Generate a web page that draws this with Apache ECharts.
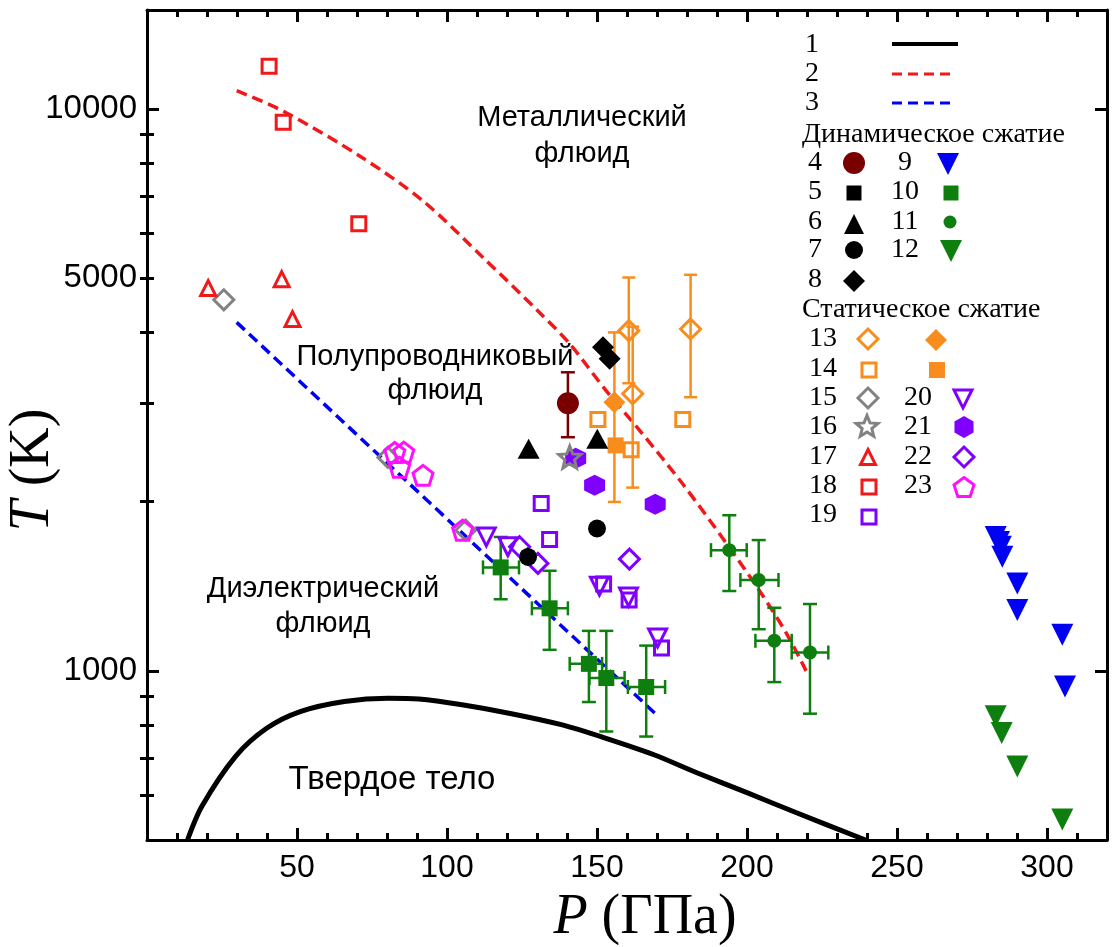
<!DOCTYPE html>
<html>
<head>
<meta charset="utf-8" />
<title>P-T diagram</title>
<script src="https://cdn.jsdelivr.net/npm/echarts@6.0.0/dist/echarts.min.js"></script>
<style>
  html, body { margin: 0; padding: 0; background: #fff; }
  #container { width: 1112px; height: 947px; }
</style>
</head>
<body>
<div id="container"></div>
<script type="text/javascript">

// ---- data (P in GPa, T in K) ----
// 1: melting curve
var meltP = [13.5, 18.3, 29.6, 40.0, 51.3, 65.8, 80.3, 90.6, 105.0, 121.5, 138.1, 152.5, 169.0, 183.5, 200.0, 216.5, 239.5];
var meltT = [500, 574, 705, 791, 847, 882, 894, 891, 870, 839, 802, 760, 709, 658, 607, 559, 500];
// 2: metallization line
var metP = [29.9, 45.4, 71.0, 92.0, 112.0, 130.9, 140.9, 153.1, 164.2, 178.6, 193.0, 204.1, 213.0, 219.7];
var metT = [10780, 9910, 8240, 6860, 5440, 4340, 3820, 3150, 2680, 2150, 1690, 1390, 1170, 1000];
// 3: dielectric boundary
var dielP = [29.9, 100, 170.2];
var dielT = [4170, 1864, 832];

// dynamic compression
var d4 = [[140.3, 2994]];
var e4T = [[2605, 3399]];
var d6 = [[127.2, 2485], [150.1, 2589]];
var d7 = [[150.0, 1792], [127.0, 1595]];
var d8 = [[152.0, 3765], [154.2, 3591]];
var d9 = [[282.9, 1731], [284.0, 1696], [284.6, 1663], [285.1, 1596], [290.1, 1431], [290.1, 1283], [305.1, 1159], [306.0, 938]];
var d10 = [[117.9, 1528], [134.2, 1292], [147.3, 1029], [153.1, 971], [166.4, 936]];
var e10T = [[1341, 1731], [1090, 1507], [880, 1178], [780, 1178], [764, 1109]];
var e10P = [[112.0, 124.0], [128.3, 140.3], [140.9, 151.7], [147.5, 159.2], [160.3, 172.7]];
var d11 = [[194.1, 1640], [203.9, 1451], [209.1, 1131], [221.0, 1078]];
var e11T = [[1387, 1892], [1186, 1709], [955, 1295], [839, 1315]];
var e11P = [[188.0, 199.9], [197.8, 210.5], [202.8, 214.9], [214.9, 227.1]];
var d12 = [[282.9, 830], [284.9, 775], [290.1, 676], [305.1, 544]];

// static compression
var d13o = [[160.6, 4031], [161.9, 3112], [181.2, 4059]];
var e13o = [[3250, 5012], [2119, 4098], [3069, 5068]];
var d13f = [[155.8, 3006]];
var e13f = [[1998, 4002]];
var d14o = [[150.3, 2802], [161.4, 2475], [178.6, 2802]];
var d14f = [[156.2, 2519]];
var d15 = [[25.6, 4575], [80.3, 2398], [106.2, 1780]];
var d16 = [[140.9, 2401]];
var d17 = [[20.4, 4800], [44.9, 4978], [48.5, 4227]];
var d18 = [[40.7, 11906], [45.4, 9472], [70.6, 6249]];
var d19 = [[131.4, 1985], [134.2, 1713], [152.2, 1427], [160.7, 1337], [171.5, 1098]];
var d20 = [[113.1, 1731], [120.3, 1663], [150.8, 1415], [160.5, 1353], [170.2, 1144]];
var d21 = [[142.9, 2390], [149.2, 2139], [169.4, 1979]];
var d22 = [[124.2, 1663], [130.3, 1553], [160.8, 1581]];
var d23 = [[105.2, 1780], [82.6, 2447], [85.6, 2450], [84.2, 2303], [92.0, 2228]];

// axis ticks
var xMajor = [50, 100, 150, 200, 250, 300];
var xMinor = [10, 20, 30, 40, 60, 70, 80, 90, 110, 120, 130, 140, 160, 170, 180, 190, 210, 220, 230, 240, 260, 270, 280, 290, 310];
var yMajor = [1000, 10000];
var yMinor = [600, 700, 800, 900, 2000, 3000, 4000, 5000, 6000, 7000, 8000, 9000];
var yLabels = [1000, 5000, 10000];

// ---- styles ----
var SANS = '"Liberation Sans", Arial, sans-serif';
var SERIF = '"Liberation Serif", "Times New Roman", serif';
var RED = '#f01818', BLUE = '#0000f5', GREEN = '#0e7f0e', ORANGE = '#f88c1c',
    PURPLE = '#7f00ff', MAGENTA = '#ff10ff', GRAY = '#828282', MAROON = '#7a0000';
var NOFILL = 'rgba(0,0,0,0)';
var HEX = 'path://M50,0 L93.3,25 L93.3,75 L50,100 L6.7,75 L6.7,25 Z';
var PENT = 'path://M50,0 L97.6,34.5 L79.4,90.5 L20.6,90.5 L2.4,34.5 Z';
var STAR = 'path://M50,0 L62.9,32.2 L97.6,34.5 L70.9,56.8 L79.4,90.5 L50,72 L20.6,90.5 L29.1,56.8 L2.4,34.5 L37.1,32.2 Z';

function lg(v) { return Math.log10(v); }
function zip(a, b) { return a.map(function (v, i) { return [v, b[i]]; }); }

function sc(data, symbol, size, fill, stroke, bw, rot, z) {
    return {
        type: 'scatter', xAxisIndex: 0, yAxisIndex: 0, data: data,
        symbol: symbol, symbolSize: size, symbolRotate: rot || 0,
        itemStyle: { color: fill, borderColor: stroke || fill, borderWidth: bw || 0, opacity: 1 },
        z: z || 4, silent: true
    };
}

function errBars(pts, tErr, pErr, color, cap) {
    var data = pts.map(function (p, i) {
        return [p[0], p[1],
            tErr ? tErr[i][0] : 0, tErr ? tErr[i][1] : 0,
            pErr ? pErr[i][0] : 0, pErr ? pErr[i][1] : 0];
    });
    return {
        type: 'custom', xAxisIndex: 0, yAxisIndex: 0, data: data, z: 3, silent: true,
        encode: { x: 0, y: 1 },
        renderItem: function (params, api) {
            var x = api.value(0), y = api.value(1);
            var st = { stroke: color, lineWidth: 2.5 };
            var kids = [];
            function seg(a, b) { kids.push({ type: 'line', shape: { x1: a[0], y1: a[1], x2: b[0], y2: b[1] }, style: st }); }
            if (api.value(3) > 0) {
                var lo = api.coord([x, api.value(2)]), hi = api.coord([x, api.value(3)]);
                seg(lo, hi);
                seg([lo[0] - cap, lo[1]], [lo[0] + cap, lo[1]]);
                seg([hi[0] - cap, hi[1]], [hi[0] + cap, hi[1]]);
            }
            if (api.value(5) > 0) {
                var l = api.coord([api.value(4), y]), r = api.coord([api.value(5), y]);
                seg(l, r);
                seg([l[0], l[1] - cap], [l[0], l[1] + cap]);
                seg([r[0], r[1] - cap], [r[0], r[1] + cap]);
            }
            return { type: 'group', children: kids };
        }
    };
}

function line(xs, ys, color, width, type, smooth) {
    return {
        type: 'line', xAxisIndex: 0, yAxisIndex: 0, data: zip(xs, ys), showSymbol: false, symbol: 'none',
        smooth: smooth, lineStyle: { color: color, width: width, type: type }, z: 2, silent: true
    };
}

// ---- legend helpers (graphic) ----
function mk(kind, cx, cy, s, fill, stroke, lw) {
    var r = s / 2, pts, i, a;
    var st = { fill: fill, stroke: stroke || null, lineWidth: lw || 0 };
    if (kind === 'circle') return { type: 'circle', shape: { cx: cx, cy: cy, r: r }, style: st };
    if (kind === 'rect') return { type: 'rect', shape: { x: cx - r, y: cy - r, width: s, height: s }, style: st };
    if (kind === 'tri') pts = [[cx, cy - r], [cx + r, cy + r], [cx - r, cy + r]];
    if (kind === 'dtri') pts = [[cx - r, cy - r], [cx + r, cy - r], [cx, cy + r]];
    if (kind === 'diamond') pts = [[cx, cy - r], [cx + r, cy], [cx, cy + r], [cx - r, cy]];
    if (kind === 'hex' || kind === 'pent') {
        var n = kind === 'hex' ? 6 : 5;
        pts = [];
        for (i = 0; i < n; i++) { a = -Math.PI / 2 + i * 2 * Math.PI / n; pts.push([cx + r * Math.cos(a), cy + r * Math.sin(a)]); }
    }
    if (kind === 'star') {
        pts = [];
        for (i = 0; i < 10; i++) { a = -Math.PI / 2 + i * Math.PI / 5; var rr = i % 2 ? r * 0.44 : r; pts.push([cx + rr * Math.cos(a), cy + rr * Math.sin(a)]); }
    }
    return { type: 'polygon', shape: { points: pts }, style: st };
}
function txt(s, x, y, size, family, align) {
    return { type: 'text', x: x, y: y, style: { text: s, fontSize: size, fontFamily: family, fill: '#000', align: align || 'center', verticalAlign: 'middle' } };
}
function lgLine(x1, x2, y, color, dash, w) {
    return { type: 'line', shape: { x1: x1, y1: y, x2: x2, y2: y }, style: { stroke: color, lineWidth: w, lineDash: dash } };
}
var italic = { i: { fontFamily: SERIF, fontSize: 56, fontStyle: 'italic', fill: '#000' } };

var graphics = [
    txt('Металлический', 582, 118, 29, SANS), txt('флюид', 582, 154, 29, SANS),
    txt('Полупроводниковый', 435, 357, 29, SANS), txt('флюид', 435, 391, 29, SANS),
    txt('Диэлектрический', 323, 589, 29, SANS), txt('флюид', 323, 624, 29, SANS),
    txt('Твердое тело', 392, 780, 33, SANS),

    // axis titles
    { type: 'text', x: 645, y: 918, style: { text: '{i|P} (ГПа)', rich: italic, fontSize: 56, fontFamily: SERIF, fill: '#000', align: 'center', verticalAlign: 'middle' } },
    { type: 'text', x: 33, y: 470, rotation: Math.PI / 2, style: { text: '{i|T} (K)', rich: italic, fontSize: 56, fontFamily: SERIF, fill: '#000', align: 'center', verticalAlign: 'middle' } },

    txt('1', 812, 45, 28, SERIF), lgLine(892, 958, 44, '#000', null, 4),
    txt('2', 812, 74, 28, SERIF), lgLine(892, 952, 74, RED, [10, 6], 3),
    txt('3', 812, 103, 28, SERIF), lgLine(892, 952, 103, BLUE, [10, 6], 3),
    txt('Динамическое сжатие', 802, 135, 28, SERIF, 'left'),
    txt('4', 815, 163, 28, SERIF), mk('circle', 854, 163, 22, MAROON),
    txt('9', 905, 163, 28, SERIF), mk('dtri', 948, 164, 22, BLUE),
    txt('5', 815, 192, 28, SERIF), mk('rect', 854, 193, 15, '#000'),
    txt('10', 905, 192, 28, SERIF), mk('rect', 951, 193, 15, GREEN),
    txt('6', 815, 222, 28, SERIF), mk('tri', 854, 224, 20, '#000'),
    txt('11', 905, 222, 28, SERIF), mk('circle', 950, 222, 13, GREEN),
    txt('7', 815, 250, 28, SERIF), mk('circle', 854, 250, 18, '#000'),
    txt('12', 905, 250, 28, SERIF), mk('dtri', 951, 251, 22, GREEN),
    txt('8', 815, 280, 28, SERIF), mk('diamond', 854, 281, 22, '#000'),
    txt('Статическое сжатие', 802, 310, 28, SERIF, 'left'),
    txt('13', 823, 339, 28, SERIF), mk('diamond', 868, 339, 20, NOFILL, ORANGE, 3), mk('diamond', 936, 340, 22, ORANGE),
    txt('14', 823, 369, 28, SERIF), mk('rect', 869, 370, 14, NOFILL, ORANGE, 3), mk('rect', 937, 370, 16, ORANGE),
    txt('15', 823, 398, 28, SERIF), mk('diamond', 868, 398, 20, NOFILL, GRAY, 3),
    txt('20', 918, 398, 28, SERIF), mk('dtri', 963, 399, 18, NOFILL, PURPLE, 3),
    txt('16', 823, 427, 28, SERIF), mk('star', 867, 427, 23, NOFILL, GRAY, 3),
    txt('21', 918, 427, 28, SERIF), mk('hex', 964, 427, 22, PURPLE),
    txt('17', 823, 457, 28, SERIF), mk('tri', 868, 457, 15, NOFILL, RED, 3),
    txt('22', 918, 457, 28, SERIF), mk('diamond', 964, 457, 20, NOFILL, PURPLE, 3),
    txt('18', 823, 486, 28, SERIF), mk('rect', 869, 487, 14, NOFILL, RED, 3),
    txt('23', 918, 486, 28, SERIF), mk('pent', 964, 488, 21, NOFILL, MAGENTA, 3),
    txt('19', 823, 515, 28, SERIF), mk('rect', 869, 517, 14, NOFILL, PURPLE, 3)
];

// ---- axes ----
var gridBox = { left: 147, right: 5, top: 10, bottom: 107, outerBoundsMode: 'none' };
var frame = { show: true, onZero: false, lineStyle: { color: '#000', width: 3 } };
var noLine = { show: false };
function ticks(values, len) {
    return { show: true, inside: true, length: len, customValues: values, lineStyle: { color: '#000', width: 3 } };
}
var lgMajor = yMajor.map(lg), lgMinor = yMinor.map(lg);
var yLo = lg(500), yHi = lg(15000);

function xAx(grid, pos, line, tk, label) {
    return {
        gridIndex: grid, type: 'value', min: 0, max: 320, position: pos,
        axisLine: line, axisTick: tk, axisLabel: label || { show: false }, splitLine: { show: false }
    };
}
function yAx(grid, pos, line, tk, label) {
    return {
        gridIndex: grid, type: 'value', min: yLo, max: yHi, position: pos,
        axisLine: line, axisTick: tk, axisLabel: label || { show: false }, splitLine: { show: false }
    };
}

var xAxes = [
    xAx(0, 'bottom', frame, ticks(xMajor, 12), { customValues: xMajor, fontSize: 32, fontFamily: SANS, color: '#000', margin: 12 }),
    xAx(0, 'top', frame, ticks(xMajor, 12)),
    xAx(1, 'bottom', noLine, ticks(xMinor, 7)),
    xAx(1, 'top', noLine, ticks(xMinor, 7)),
    xAx(2, 'bottom', noLine, { show: false })
];

var yAxes = [
    {
        gridIndex: 0, type: 'log', logBase: 10, min: 500, max: 15000, position: 'left',
        axisLine: frame, axisTick: { show: false }, axisLabel: { show: false }, splitLine: { show: false }, minorTick: { show: false }
    },
    yAx(0, 'right', frame, ticks(lgMajor, 12)),
    yAx(1, 'left', noLine, ticks(lgMinor, 7), {
        customValues: yLabels.map(lg), fontSize: 33, fontFamily: SANS, color: '#000', margin: 10,
        formatter: function (v) { return String(Math.round(Math.pow(10, v))); }
    }),
    yAx(1, 'right', noLine, ticks(lgMinor, 7)),
    yAx(2, 'left', noLine, ticks(lgMajor, 12))
];

// ---- series ----
var series = [
    line(meltP, meltT, '#000', 5, 'solid', 0.3),
    line(metP, metT, RED, 3.5, [11, 6], 0.3),
    line(dielP, dielT, BLUE, 3.5, [11, 6], false),

    errBars(d13f, e13f, null, ORANGE, 6.5),
    errBars(d13o, e13o, null, ORANGE, 6.5),
    errBars(d4, e4T, null, MAROON, 7),
    errBars(d10, e10T, e10P, GREEN, 7),
    errBars(d11, e11T, e11P, GREEN, 7),

    sc(d15, 'diamond', 20, NOFILL, GRAY, 3),
    sc(d23, PENT, 20, NOFILL, MAGENTA, 3),
    sc(d17, 'triangle', 15, NOFILL, RED, 3),
    sc(d18, 'rect', 14, NOFILL, RED, 3),
    sc(d21, HEX, 21, PURPLE),
    sc(d16, STAR, 22, NOFILL, GRAY, 3, 0, 5),
    sc(d19, 'rect', 14, NOFILL, PURPLE, 3),
    sc(d20, 'triangle', 18, NOFILL, PURPLE, 3, 180),
    sc(d22, 'diamond', 20, NOFILL, PURPLE, 3),
    sc(d14o, 'rect', 14, NOFILL, ORANGE, 3),
    sc(d14f, 'rect', 16, ORANGE),
    sc(d13o, 'diamond', 20, NOFILL, ORANGE, 3),
    sc(d13f, 'diamond', 22, ORANGE),
    sc(d4, 'circle', 22, MAROON),
    sc(d6, 'triangle', [22, 20], '#000'),
    sc(d7, 'circle', 18, '#000'),
    sc(d8, 'diamond', 22, '#000'),
    sc(d9, 'triangle', 22, BLUE, BLUE, 0, 180),
    sc(d10, 'rect', 16, GREEN),
    sc(d11, 'circle', 14, GREEN),
    sc(d12, 'triangle', 22, GREEN, GREEN, 0, 180)
];

var chart = echarts.init(document.getElementById('container'), null, { renderer: 'canvas' });
chart.setOption({
    animation: false,
    backgroundColor: '#fff',
    textStyle: { fontFamily: SANS },
    grid: [gridBox, gridBox, gridBox],
    xAxis: xAxes,
    yAxis: yAxes,
    series: series,
    graphic: graphics
});
</script>
</body>
</html>
